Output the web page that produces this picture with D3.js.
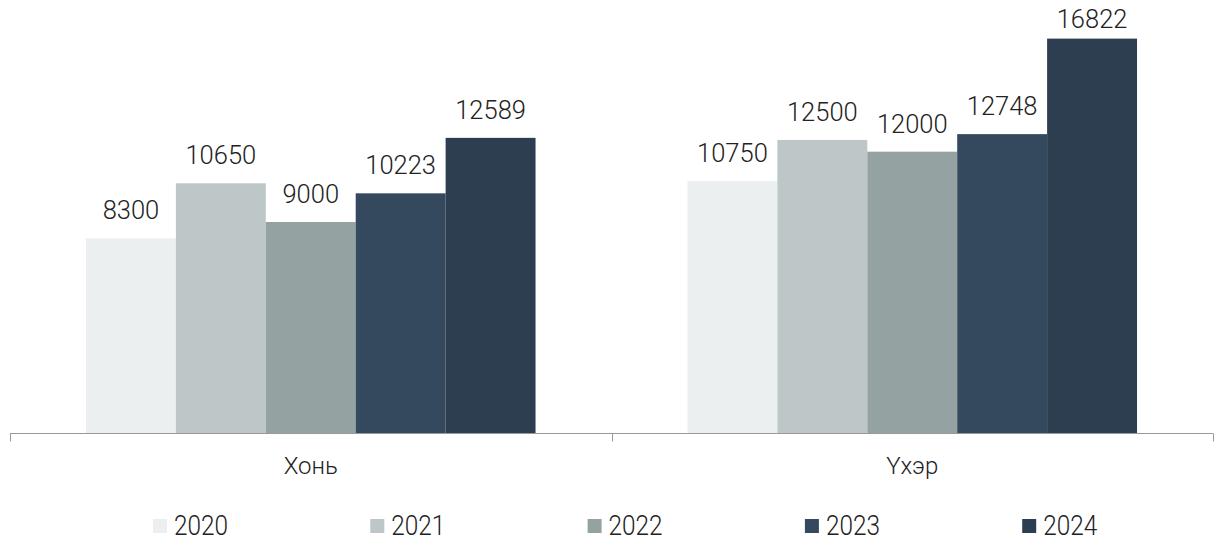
<!DOCTYPE html>
<html><head><meta charset="utf-8">
<script src="https://cdn.jsdelivr.net/npm/d3@7"></script>
<style>body{margin:0;background:#fff;}svg{display:block;font-family:Roboto,sans-serif;}</style>
</head><body><svg id="c" width="1220" height="542"></svg>
<script>
const categories = ["Хонь", "Үхэр"];
const years = ["2020", "2021", "2022", "2023", "2024"];
const values2020 = [8300, 10750];
const values2021 = [10650, 12500];
const values2022 = [9000, 12000];
const values2023 = [10223, 12748];
const values2024 = [12589, 16822];
const colors = ["#EBEFEF", "#BEC7C8", "#94A3A2", "#34495E", "#2C3E50"];

const series = [values2020, values2021, values2022, values2023, values2024];
const svg = d3.select("#c");
const x0 = d3.scaleBand().domain(categories).range([10, 1213]).paddingInner(0).paddingOuter(0);
const x1 = d3.scaleBand().domain(years).range([0, x0.bandwidth()]).paddingOuter(0.845).paddingInner(0);
const y = d3.scaleLinear().domain([0, 18000]).range([433, 11]);

const g = svg.append("g");
categories.forEach((c, ci) => {
  years.forEach((yr, si) => {
    const v = series[si][ci];
    g.append("rect")
      .attr("x", x0(c) + x1(yr))
      .attr("y", y(v))
      .attr("width", x1.bandwidth())
      .attr("height", y(0) - y(v))
      .attr("fill", colors[si]);
    g.append("text")
      .attr("x", x0(c) + x1(yr) + x1.bandwidth() / 2)
      .attr("y", Math.max(y(v) - 19, 28))
      .attr("text-anchor", "middle")
      .attr("font-size", 25.5)
      .attr("font-weight", 300)
      .attr("fill", "#222")
      .text(v);
  });
});

// axis
const axisG = svg.append("g").attr("transform", "translate(0,433.5)");
axisG.append("line").attr("x1", 10).attr("x2", 1213).attr("stroke", "#999").attr("stroke-width", 1.2);
const ticks = [x0.range()[0], ...categories.map(c => x0(c) + x0.bandwidth())];
ticks.forEach(t => {
  axisG.append("line").attr("x1", Math.round(t) + 0.5).attr("x2", Math.round(t) + 0.5)
    .attr("y1", 0).attr("y2", 8).attr("stroke", "#999").attr("stroke-width", 1);
});
categories.forEach(c => {
  svg.append("text")
    .attr("x", x0(c) + x0.bandwidth() / 2)
    .attr("y", 474)
    .attr("text-anchor", "middle")
    .attr("font-size", 24)
    .attr("font-weight", 300)
    .attr("fill", "#222")
    .text(c);
});

// legend
const legX = d3.scaleBand().domain(years).range([153, 153 + 217.3 * 5]);
years.forEach((yr, i) => {
  const lx = legX(yr);
  svg.append("rect").attr("x", lx).attr("y", 519).attr("width", 14).attr("height", 14).attr("fill", colors[i]);
  svg.append("text").attr("transform", `translate(${lx + 21},535) scale(0.87,1)`).attr("font-size", 28)
    .attr("font-weight", 300).attr("fill", "#222").text(yr);
});
</script></body></html>
